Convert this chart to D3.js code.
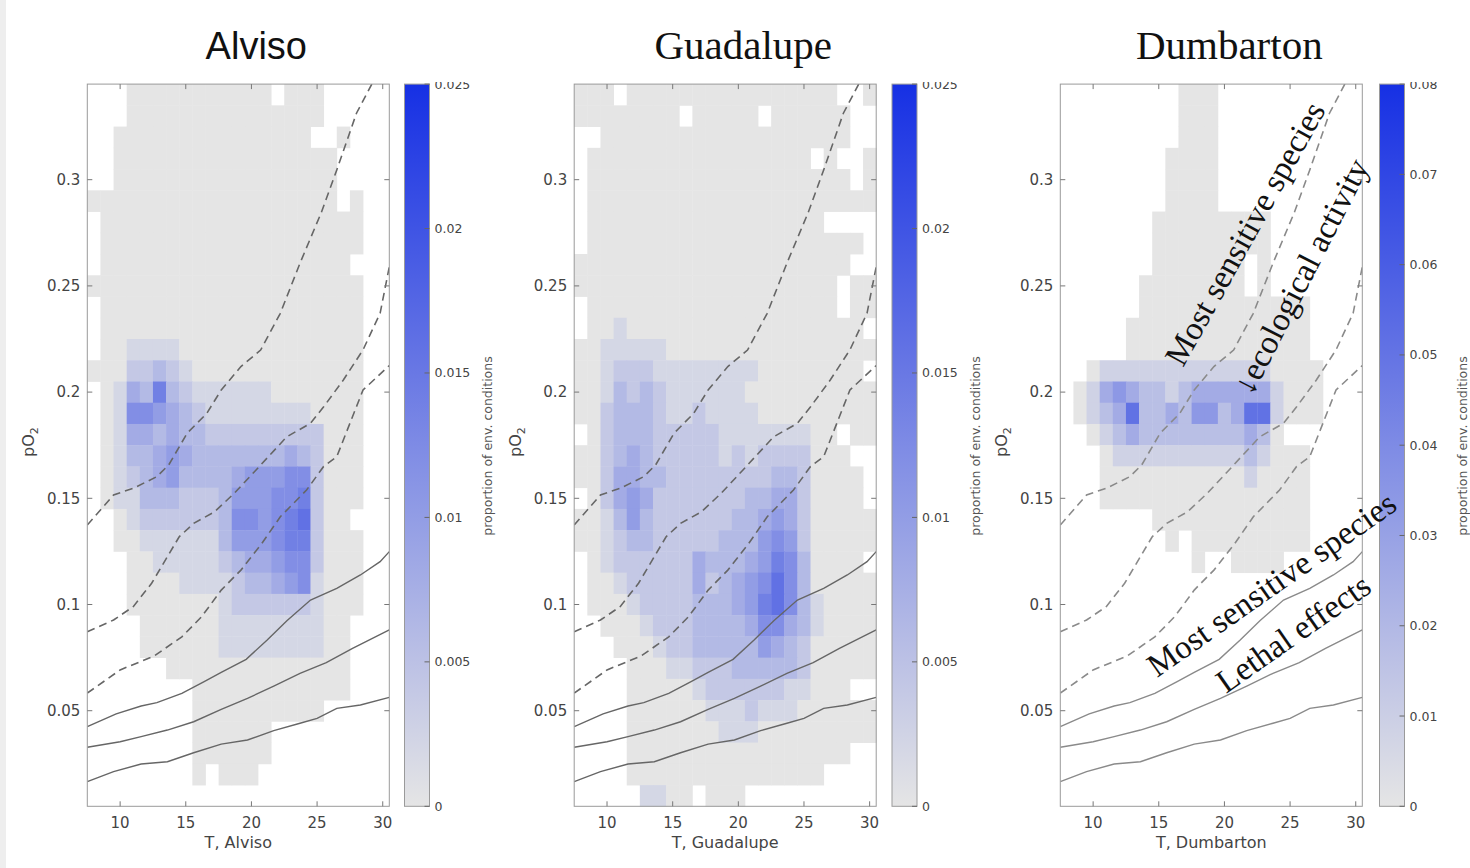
<!DOCTYPE html>
<html>
<head>
<meta charset="utf-8">
<script src="https://cdn.jsdelivr.net/npm/d3@7"></script>
<style>
  body { margin: 0; background: #fff; }
  svg { display: block; }
</style>
</head>
<body>
<svg id="chart" width="1470" height="868"></svg>
<script>
// ---- data ---------------------------------------------------------------
var tempBins = d3.range(8, 31);                                   // 1 degC bins, 8 .. 30
var po2Bins = d3.range(34, 0, -1).map(function (d) { return d / 100; }); // rows top -> bottom, 0.34 .. 0.01

// heatmap rows, top row first, one char per temperature bin
// '.' = no data, '0'..'9' = value in units of the panel step
var alvisoStep = 0.002;
var alvisoRows = [
  "...00000000000.000.....",
  "...000000000000000.....",
  "..000000000000000..0...",
  "..00000000000000000....",
  "..00000000000000000....",
  "0000000000000000000.0..",
  ".00000000000000000000..",
  ".00000000000000000000..",
  ".0000000000000000000...",
  "000000000000000000000..",
  ".00000000000000000000..",
  ".00000000000000000000..",
  ".00111100000000000000..",
  "000223210000000000000..",
  ".01437321111110000000..",
  ".01665432111111110000..",
  ".01443433222222222000..",
  ".01334543333333432000..",
  ".01234533334555662000..",
  ".01133322235556672000..",
  "..012222223665678200...",
  "..0011111135556772000..",
  "...001111123445662000..",
  "...000011112334561000..",
  "...000000012222221000..",
  "....0000001111111100...",
  "....0000001111111100...",
  "......00000000000000...",
  "........000000000000...",
  "........0000000000.....",
  "........000000.........",
  "........000000.........",
  "........0.000..........",
  "......................."
];

var guadalupeStep = 0.002;
var guadalupeRows = [
  "000.0000000000000000..0",
  "00000000.00000.000000..",
  "..0000000000000000000..",
  ".00000000000000000.0..0",
  ".00000000000000000000.0",
  ".0000000000000000000000",
  ".000000000000000000....",
  ".000000000000000000000.",
  "000000000000000000000..",
  "00000000000000000000.00",
  ".0000000000000000000.00",
  ".001000000000000000000.",
  "00111110000000000000000",
  "0012221111111100000000.",
  "00132321111110000000000",
  "00233321121111000000000",
  ".0233322222111111100.00",
  "002343222221212222000..",
  "0024433222222223320000.",
  ".024542222222334420000.",
  "00135322222233454200000",
  "00123322222333565200000",
  ".012222224333457630000.",
  ".0012222242345686300000",
  ".0001222233345786310000",
  "..000122233334664310000",
  "...00012233333543200000",
  "....0001122233333200000",
  "....00000122222211000..",
  "....0000001112111000000",
  "....0000000111000000000",
  "....00000000000000000..",
  "....000000000000000....",
  ".....1100.000.........."
];

var dumbartonStep = 0.0085;
var dumbartonRows = [
  ".........000...........",
  ".........000...........",
  ".........000...........",
  "........0000...........",
  "........0000...........",
  "........0000...........",
  ".......000000000.......",
  ".......000000000.......",
  ".......0000000.0.......",
  "......00000000.0.......",
  "......0000000000000....",
  ".....00000000000000....",
  ".....00000000000000....",
  "..011111111111110000...",
  ".0134322123333331000...",
  ".0123622324423661000...",
  "..012322222222320......",
  "...0111111111121000....",
  "...0000000000010000....",
  "...0000000000000000....",
  ".......000000000000....",
  "........0.000000000....",
  "..........0..0000......",
  ".......................",
  ".......................",
  ".......................",
  ".......................",
  ".......................",
  ".......................",
  ".......................",
  ".......................",
  ".......................",
  ".......................",
  "......................."
];

// threshold curves (T, pO2), same in every panel
var solidLow = [[7.5, 0.0166], [9.5, 0.0213], [11.6, 0.0249], [13.6, 0.026], [15.6, 0.0302], [17.7, 0.0343],
  [19.7, 0.0362], [21.7, 0.0406], [23.7, 0.0441], [25.0, 0.0464], [26.5, 0.0511], [28.3, 0.0527], [30.5, 0.0563]];
var solidMid = [[7.5, 0.0328], [10.0, 0.0354], [11.6, 0.0378], [13.6, 0.0409], [15.6, 0.0448], [17.7, 0.0506],
  [19.7, 0.0558], [21.7, 0.0616], [23.7, 0.0676], [25.7, 0.0726], [27.7, 0.0794], [30.5, 0.088]];
var solidHigh = [[7.5, 0.0425], [9.7, 0.0485], [11.6, 0.0522], [12.8, 0.0538], [14.7, 0.0582], [16.4, 0.0637],
  [17.7, 0.068], [19.6, 0.0742], [21.2, 0.0833], [22.7, 0.0924], [24.5, 0.1021], [26.5, 0.1076], [28.3, 0.1139],
  [29.8, 0.1202], [30.5, 0.1249]];
var dashLow = [[7.5, 0.0583], [10.0, 0.0692], [12.6, 0.0758], [14.7, 0.0848], [16.2, 0.0942], [17.7, 0.1068],
  [19.2, 0.1162], [20.8, 0.1288], [22.2, 0.1413], [24.2, 0.1539], [25.5, 0.165], [26.5, 0.1696], [28.5, 0.201],
  [30.5, 0.2125]];
var dashMid = [[7.5, 0.0872], [9.5, 0.0927], [11.0, 0.099], [12.4, 0.11], [13.6, 0.1225], [14.5, 0.1319],
  [15.6, 0.1382], [17.2, 0.1437], [18.7, 0.1524], [20.3, 0.163], [22.7, 0.179], [24.5, 0.1853], [25.5, 0.1931],
  [27.0, 0.2057], [28.5, 0.2199], [29.8, 0.2371], [30.5, 0.259]];
var dashHigh = [[7.5, 0.1374], [9.5, 0.1516], [11.0, 0.1547], [12.8, 0.1602], [13.7, 0.1657], [15.1, 0.1806],
  [16.6, 0.19], [17.7, 0.201], [19.2, 0.212], [20.7, 0.2198], [22.2, 0.2371], [23.7, 0.2607], [25.3, 0.2842],
  [26.5, 0.3046], [28.0, 0.3313], [29.2, 0.3454], [29.6, 0.352]];

var xTicks = [10, 15, 20, 25, 30];
var yTicks = [0.05, 0.1, 0.15, 0.2, 0.25, 0.3];
var cbTicksLow = [0, 0.005, 0.01, 0.015, 0.02, 0.025];
var cbTicksHigh = [0, 0.01, 0.02, 0.03, 0.04, 0.05, 0.06, 0.07, 0.08];

// text labels on the Dumbarton panel (anchored in data coords)
var notes = [
  { text: "Most sensitive species", t: 16.85, p: 0.2113, angle: -61 },
  { text: "\u2193ecological activity", t: 22.1, p: 0.1977, angle: -63 },
  { text: "Most sensitive species", t: 14.86, p: 0.0654, angle: -35 },
  { text: "Lethal effects", t: 20.12, p: 0.0579, angle: -35 }
];

// ---- layout -------------------------------------------------------------
var sans = "'DejaVu Sans', Verdana, sans-serif";
var serif = "'Liberation Serif', 'Times New Roman', serif";
var plotTop = 84.1, plotBottom = 806.3, plotW = 302, cbW = 25;

var panels = [
  { title: "Alviso", titleFont: "'Liberation Sans', Arial, sans-serif", titleSize: 38,
    rows: alvisoRows, step: alvisoStep, cbMax: 0.025, cbTicks: cbTicksLow, left: 87.3, cbLeft: 404.5, lineColor: "#666" },
  { title: "Guadalupe", titleFont: serif, titleSize: 41,
    rows: guadalupeRows, step: guadalupeStep, cbMax: 0.025, cbTicks: cbTicksLow, left: 574.2, cbLeft: 892, lineColor: "#666" },
  { title: "Dumbarton", titleFont: serif, titleSize: 41,
    rows: dumbartonRows, step: dumbartonStep, cbMax: 0.08, cbTicks: cbTicksHigh, left: 1060.3, cbLeft: 1379.5, lineColor: "#8a8a8a" }
];

var svg = d3.select("#chart");
var defs = svg.append("defs");

// thin grey strip at the very left, as in the screenshot
svg.append("rect").attr("x", 0).attr("y", 0).attr("width", 6).attr("height", 868).attr("fill", "#eeeeee");

var lowBlue = "#e5e5e5", highBlue = "#1630e4";

panels.forEach(function (pn, idx) {
  var x = d3.scaleLinear().domain([7.5, 30.5]).range([pn.left, pn.left + plotW]);
  var y = d3.scaleLinear().domain([0.005, 0.345]).range([plotBottom, plotTop]);
  var color = d3.scaleLinear().domain([0, pn.cbMax]).range([lowBlue, highBlue]).clamp(true);
  var g = svg.append("g").attr("class", "panel panel-" + idx);

  // parse heatmap rows into cells
  var cells = [];
  pn.rows.forEach(function (row, k) {
    tempBins.forEach(function (t, i) {
      var ch = row.charAt(i);
      if (!ch || ch === ".") return;
      cells.push({ t: t, p: po2Bins[k], v: +ch * pn.step });
    });
  });

  g.selectAll("rect.cell")
    .data(cells)
    .enter()
    .append("rect")
    .attr("class", "cell")
    .attr("x", function (d) { return x(d.t - 0.5); })
    .attr("y", function (d) { return y(d.p + 0.005); })
    .attr("width", function (d) { return x(d.t + 0.5) - x(d.t - 0.5) + 0.4; })
    .attr("height", function (d) { return y(d.p - 0.005) - y(d.p + 0.005) + 0.4; })
    .attr("fill", function (d) { return color(d.v); });

  // curves, clipped to the axes box
  defs.append("clipPath").attr("id", "clip" + idx)
    .append("rect").attr("x", pn.left).attr("y", plotTop).attr("width", plotW).attr("height", plotBottom - plotTop);

  var line = d3.line()
    .x(function (d) { return x(d[0]); })
    .y(function (d) { return y(d[1]); });

  var curves = g.append("g").attr("clip-path", "url(#clip" + idx + ")");
  [dashLow, dashMid, dashHigh].forEach(function (c) {
    curves.append("path").datum(c).attr("d", line)
      .attr("fill", "none").attr("stroke", pn.lineColor).attr("stroke-width", 1.6)
      .attr("stroke-dasharray", "8,5");
  });
  [solidLow, solidMid, solidHigh].forEach(function (c) {
    curves.append("path").datum(c).attr("d", line)
      .attr("fill", "none").attr("stroke", pn.lineColor).attr("stroke-width", 1.4);
  });

  // frame and inward ticks
  g.append("rect")
    .attr("x", pn.left).attr("y", plotTop).attr("width", plotW).attr("height", plotBottom - plotTop)
    .attr("fill", "none").attr("stroke", "#9a9a9a").attr("stroke-width", 1);

  xTicks.forEach(function (t) {
    g.append("line").attr("x1", x(t)).attr("x2", x(t)).attr("y1", plotBottom).attr("y2", plotBottom - 5)
      .attr("stroke", "#777");
    g.append("line").attr("x1", x(t)).attr("x2", x(t)).attr("y1", plotTop).attr("y2", plotTop + 5)
      .attr("stroke", "#777");
    g.append("text").attr("x", x(t)).attr("y", 828)
      .attr("text-anchor", "middle").attr("font-family", sans).attr("font-size", 15).attr("fill", "#444")
      .text(t);
  });
  yTicks.forEach(function (p) {
    g.append("line").attr("x1", pn.left).attr("x2", pn.left + 5).attr("y1", y(p)).attr("y2", y(p))
      .attr("stroke", "#777");
    g.append("line").attr("x1", pn.left + plotW).attr("x2", pn.left + plotW - 5).attr("y1", y(p)).attr("y2", y(p))
      .attr("stroke", "#777");
    g.append("text").attr("x", pn.left - 7).attr("y", y(p)).attr("dy", "0.36em")
      .attr("text-anchor", "end").attr("font-family", sans).attr("font-size", 15).attr("fill", "#444")
      .text(d3.format("~g")(p));
  });

  // axis labels
  g.append("text").attr("x", pn.left + plotW / 2).attr("y", 848)
    .attr("text-anchor", "middle").attr("font-family", sans).attr("font-size", 16).attr("fill", "#444")
    .text("T, " + pn.title);

  var yl = g.append("text")
    .attr("transform", "translate(" + (pn.left - 53) + ",442) rotate(-90)")
    .attr("text-anchor", "middle").attr("font-family", sans).attr("font-size", 16).attr("fill", "#444");
  yl.append("tspan").text("pO");
  yl.append("tspan").attr("font-size", 11).attr("dy", 4).text("2");

  // title
  g.append("text").attr("x", pn.left + plotW / 2 + 18).attr("y", 59)
    .attr("text-anchor", "middle").attr("font-family", pn.titleFont).attr("font-size", pn.titleSize)
    .attr("fill", "#111").text(pn.title);

  // colorbar
  var grad = defs.append("linearGradient").attr("id", "cb" + idx)
    .attr("x1", 0).attr("y1", 1).attr("x2", 0).attr("y2", 0);
  d3.range(0, 1.0001, 0.1).forEach(function (f) {
    grad.append("stop").attr("offset", f).attr("stop-color", color(f * pn.cbMax));
  });
  var cb = d3.scaleLinear().domain([0, pn.cbMax]).range([plotBottom, plotTop]);
  g.append("rect")
    .attr("x", pn.cbLeft).attr("y", plotTop).attr("width", cbW).attr("height", plotBottom - plotTop)
    .attr("fill", "url(#cb" + idx + ")").attr("stroke", "#9a9a9a").attr("stroke-width", 1);

  defs.append("clipPath").attr("id", "cbclip" + idx)
    .append("rect").attr("x", pn.cbLeft).attr("y", 82).attr("width", 90).attr("height", 760);
  var cbLab = g.append("g").attr("clip-path", "url(#cbclip" + idx + ")");
  pn.cbTicks.forEach(function (v) {
    g.append("line").attr("x1", pn.cbLeft + cbW - 5).attr("x2", pn.cbLeft + cbW)
      .attr("y1", cb(v)).attr("y2", cb(v)).attr("stroke", "#666");
    cbLab.append("text").attr("x", pn.cbLeft + cbW + 5).attr("y", cb(v)).attr("dy", "0.36em")
      .attr("font-family", sans).attr("font-size", 12.5).attr("fill", "#444")
      .text(d3.format("~g")(v));
  });
  g.append("text")
    .attr("transform", "translate(" + (pn.cbLeft + 87.5) + ",446) rotate(-90)")
    .attr("text-anchor", "middle").attr("font-family", sans).attr("font-size", 12.5).attr("fill", "#555")
    .text("proportion of env. conditions");

  // annotations on the last panel only
  if (idx === 2) {
    notes.forEach(function (n) {
      g.append("text")
        .attr("transform", "translate(" + x(n.t) + "," + y(n.p) + ") rotate(" + n.angle + ")")
        .attr("font-family", serif).attr("font-size", 33).attr("fill", "#111")
        .text(n.text);
    });
  }
});
</script>
</body>
</html>
